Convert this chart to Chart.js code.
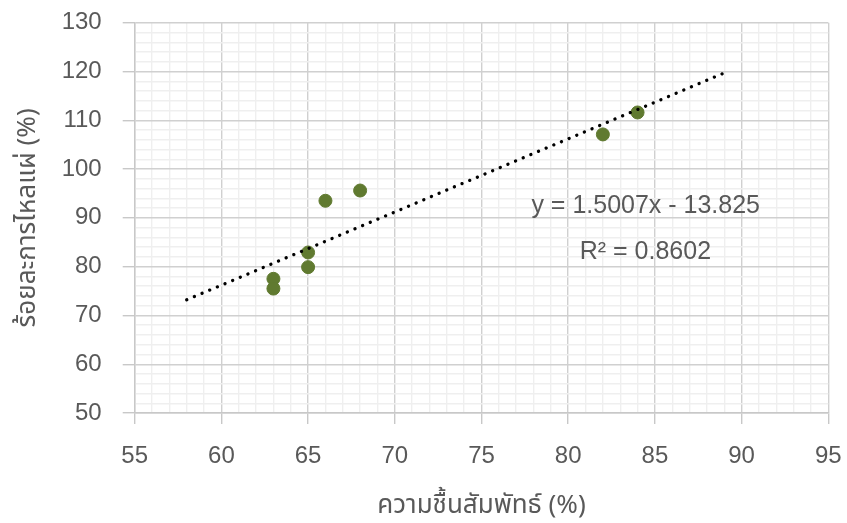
<!DOCTYPE html>
<html><head><meta charset="utf-8">
<script src="https://cdn.jsdelivr.net/npm/chart.js@4"></script>
<style>html,body{margin:0;padding:0;background:#fff}#wrap{width:847px;height:523px}</style>
</head><body><div id="wrap"><canvas id="c" width="847" height="523"></canvas></div>
<script>
const humidity = [63, 63, 65, 65, 66, 68, 82, 84];
const flowRate = [77.5, 75.5, 82.9, 79.9, 93.5, 95.6, 107.1, 111.6];
const trendX = [58, 89];
const trendY = [73.2, 119.7];
const equationText = 'y = 1.5007x - 13.825';
const r2Text = 'R² = 0.8602';
const xTitle = 'ความชื้นสัมพัทธ์ (%)';
const yTitle = 'ร้อยละการไหลแผ่ (%)';

const FONT = '"Liberation Sans", Arial, sans-serif';
const THAI = '"Noto Sans Thai", "Noto Sans", "Liberation Sans", sans-serif';
const TXT = '#595959';

const labelPlugin = {
  id: 'eq',
  afterDatasetsDraw(chart) {
    const {ctx, scales:{x, y}} = chart;
    ctx.save();
    ctx.fillStyle = TXT;
    ctx.font = '25px ' + FONT;
    ctx.textAlign = 'center';
    ctx.textBaseline = 'alphabetic';
    ctx.fillText(equationText, x.getPixelForValue(84.47), y.getPixelForValue(91.0));
    ctx.fillText(r2Text, x.getPixelForValue(84.45), y.getPixelForValue(81.5));
    ctx.restore();
  }
};

new Chart(document.getElementById('c'), {
  type: 'scatter',
  data: {
    datasets: [
      {
        data: humidity.map((v, i) => ({x: v, y: flowRate[i]})),
        backgroundColor: '#607a30',
        borderColor: '#607a30',
        pointRadius: 6.5,
        pointHoverRadius: 6.5,
        order: 2
      },
      {
        type: 'line',
        data: trendX.map((v, i) => ({x: v, y: trendY[i]})),
        borderColor: '#000',
        borderWidth: 3.3,
        borderDash: [0.1, 8.2],
        borderCapStyle: 'round',
        pointRadius: 0,
        fill: false,
        order: 1
      }
    ]
  },
  options: {
    responsive: false,
    animation: false,
    layout: {padding: {top: 22.7, right: 18.7, bottom: 0, left: 0}},
    plugins: {legend: {display: false}, tooltip: {enabled: false}},
    scales: {
      x: {
        type: 'linear', min: 55, max: 95,
        afterFit(s) { s.height = 110; s.paddingLeft = 0; s.paddingRight = 0; },
        ticks: {
          stepSize: 1, autoSkip: false, maxRotation: 0, padding: 18,
          color: TXT, font: {family: FONT, size: 24},
          callback: v => (v % 5 === 0 ? String(v) : '')
        },
        grid: {
          color: c => (c.tick && c.tick.value % 5 === 0 ? '#d0d0d0' : '#efefef'),
          tickColor: c => (c.tick && c.tick.value % 5 === 0 ? '#c8c8c8' : 'rgba(0,0,0,0)'),
          lineWidth: 1.4, tickLength: 11
        },
        border: {color: '#c8c8c8', width: 1.4},
        title: {display: true, text: xTitle, color: TXT, font: {family: THAI, size: 26}, padding: {top: 4, bottom: 0}}
      },
      y: {
        type: 'linear', min: 50, max: 130,
        afterFit(s) { s.width = 134.7; s.paddingTop = 0; s.paddingBottom = 0; },
        ticks: {
          stepSize: 2, autoSkip: false, padding: 21,
          color: TXT, font: {family: FONT, size: 24},
          callback: v => (v % 10 === 0 ? String(v) : '')
        },
        grid: {
          color: c => (c.tick && c.tick.value % 10 === 0 ? '#d0d0d0' : '#efefef'),
          tickColor: c => (c.tick && c.tick.value % 10 === 0 ? '#c8c8c8' : 'rgba(0,0,0,0)'),
          lineWidth: 1.4, tickLength: 12
        },
        border: {color: '#c8c8c8', width: 1.4},
        title: {display: true, text: yTitle, color: TXT, font: {family: THAI, size: 26}, padding: {top: 14, bottom: 0}}
      }
    }
  },
  plugins: [labelPlugin]
});
</script>
</body></html>
